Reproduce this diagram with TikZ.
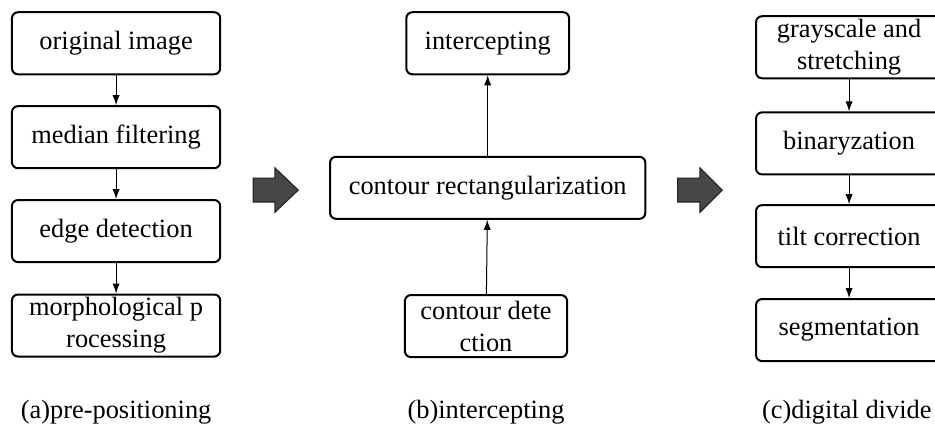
\documentclass[tikz,border=0pt]{standalone}
\usepackage{fontspec}
\setmainfont{Liberation Serif}
\usetikzlibrary{arrows.meta, positioning}

\begin{document}
\begin{tikzpicture}[
    stage/.style={draw, rectangle, rounded corners=3pt, line width=1pt,
      minimum height=1.09cm, align=center, inner sep=1pt,
      font=\fontsize{13.2}{16}\selectfont},
    caption/.style={font=\fontsize{13.2}{16}\selectfont},
    link/.style={-{Latex[length=5pt,width=3.6pt]}, line width=0.5pt},
    flow/.style={draw=black!85, fill=black!72, line width=0.6pt}
]
\clip (0,0) rectangle (16.43,-7.52);

% (a) pre-positioning
\node[stage, minimum width=3.66cm] (orig) at (2.04, -0.76) {original image};
\node[stage, minimum width=3.66cm] (median) at (2.04, -2.41) {median filtering};
\node[stage, minimum width=3.66cm] (edge) at (2.04, -4.06) {edge detection};
\node[stage, minimum width=3.66cm] (morph) at (2.04, -5.72) {morphological p\\rocessing};
\node[caption] (capa) at (2.04, -7.24) {(a)pre-positioning};

% (b) intercepting
\node[stage, minimum width=2.86cm] (icpt) at (8.57, -0.76) {intercepting};
\node[stage, minimum width=5.54cm] (rect) at (8.57, -3.30) {contour rectangularization};
\node[stage, minimum width=2.85cm] (contour) at (8.54, -5.73) {contour dete\\ction};
\node[caption] (capb) at (8.54, -7.24) {(b)intercepting};

% (c) digital divide
\node[stage, minimum width=3.27cm] (gray) at (14.92, -0.83) {grayscale and\\stretching};
\node[stage, minimum width=3.27cm] (binar) at (14.92, -2.52) {binaryzation};
\node[stage, minimum width=3.27cm] (tilt) at (14.92, -4.15) {tilt correction};
\node[stage, minimum width=3.27cm] (seg) at (14.92, -5.80) {segmentation};
\node[caption] (capc) at (14.88, -7.24) {(c)digital divide};

% Arrows
\draw[link] (orig) -- (median);
\draw[link] (median) -- (edge);
\draw[link] (edge) -- (morph);
\draw[link] (contour) -- (rect);
\draw[link] (rect) -- (icpt);
\draw[link] (gray) -- (binar);
\draw[link] (binar) -- (tilt);
\draw[link] (tilt) -- (seg);

% Block arrows between stages
\draw[flow] (4.45,-3.13) -- (4.83,-3.13) -- (4.83,-2.95) -- (5.24,-3.34)
  -- (4.83,-3.73) -- (4.83,-3.55) -- (4.45,-3.55) -- cycle;
\draw[flow] (11.91,-3.13) -- (12.30,-3.13) -- (12.30,-2.95) -- (12.69,-3.34)
  -- (12.30,-3.73) -- (12.30,-3.55) -- (11.91,-3.55) -- cycle;

\end{tikzpicture}
\end{document}
